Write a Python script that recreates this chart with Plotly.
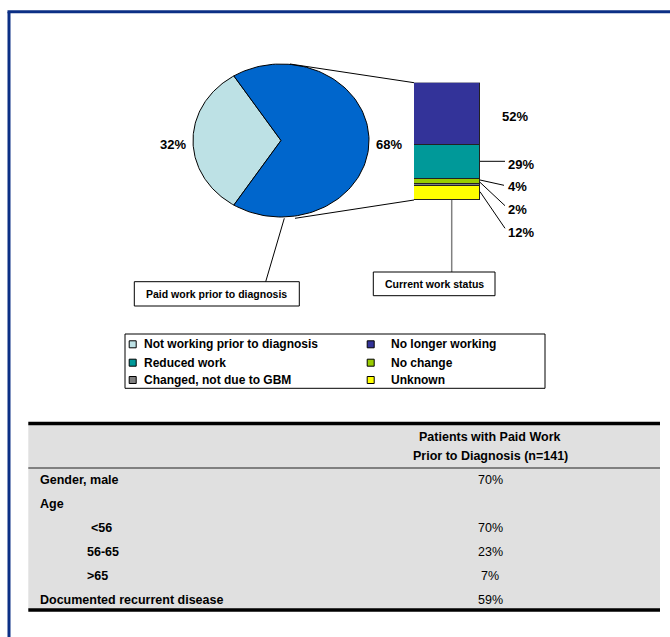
import numpy as np
import plotly.graph_objects as go

# ---------------- data ----------------
pie_labels = ["Not working prior to diagnosis", "Paid work prior to diagnosis"]
pie_values = [32, 68]
pie_colors = ["#BDE1E5", "#0066CC"]

bar_labels = ["No longer working", "Reduced work", "No change", "Changed, not due to GBM", "Unknown"]
bar_values = [52, 29, 4, 2, 12]
bar_colors = ["#333399", "#009999", "#99CC00", "#808080", "#FFFF00"]

legend_order = ["Not working prior to diagnosis", "No longer working",
                "Reduced work", "No change",
                "Changed, not due to GBM", "Unknown"]

table_header = ["Patients with Paid Work", "Prior to Diagnosis (n=141)"]
table_rows = ["Gender, male", "Age", "<56", "56-65", ">65", "Documented recurrent disease"]
table_values = ["70%", "", "70%", "23%", "7%", "59%"]
table_indent = [False, False, True, True, True, False]

# ---------------- layout constants (pixels) ----------------
W, H = 670, 637
FONT = "Arial, Liberation Sans, sans-serif"
cx, cy, rx, ry = 281.0, 140.5, 88.0, 76.5
bar_x0, bar_x1, bar_top, bar_bot = 414.0, 480.0, 82.7, 200.0

fig = go.Figure()

# ---------------- pie (elliptical) ----------------
total = sum(pie_values)
start = 180 - pie_values[0] / total * 360 / 2
ang = start
for lab, val, col in zip(pie_labels, pie_values, pie_colors):
    span = val / total * 360
    t = np.radians(np.linspace(ang, ang + span, 120))
    xs = np.concatenate([[cx], cx + rx * np.cos(t), [cx]])
    ys = np.concatenate([[cy], cy - ry * np.sin(t), [cy]])
    fig.add_trace(go.Scatter(x=xs, y=ys, mode="lines", fill="toself", fillcolor=col,
                             line=dict(color="black", width=1), hoverinfo="skip",
                             showlegend=False, xaxis="x", yaxis="y"))
    mid = np.radians(ang + span / 2)
    lx = cx + (rx + 20) * np.cos(mid)
    ly = cy + 3.5
    fig.add_annotation(x=lx, y=ly, xref="x", yref="y", text=f"<b>{val}%</b>", showarrow=False,
                       font=dict(family=FONT, size=13, color="black"), xanchor="center", yanchor="middle")
    ang += span

# ---------------- stacked bar ----------------
for lab, val, col in list(zip(bar_labels, bar_values, bar_colors))[::-1]:
    fig.add_trace(go.Bar(x=[0], y=[val], marker=dict(color=col, line=dict(color="#222222", width=1)),
                         width=1, xaxis="x2", yaxis="y2", showlegend=False, hoverinfo="skip"))

# bar labels
bar_label_pos = [(500, 116), (506, 164.5), (506, 186), (506, 209), (506, 232)]
for val, (px, py) in zip(bar_values, bar_label_pos):
    fig.add_annotation(x=px, y=py, xref="x", yref="y", text=f"<b>{val}%</b>", showarrow=False,
                       font=dict(family=FONT, size=13, color="black"), xanchor="left", yanchor="middle")

shapes = []
def line(x0, y0, x1, y1, color="black", width=1):
    shapes.append(dict(type="line", xref="x", yref="y", x0=x0, y0=y0, x1=x1, y1=y1,
                       line=dict(color=color, width=width)))

def rect(x0, y0, x1, y1, fill="rgba(0,0,0,0)", color="black", width=1, layer="above"):
    shapes.append(dict(type="rect", xref="x", yref="y", x0=x0, y0=y0, x1=x1, y1=y1,
                       fillcolor=fill, line=dict(color=color, width=width), layer=layer))

# leader lines for bar labels
line(480, 161.3, 505, 161.3)
line(480, 180, 504, 185.3)
line(480, 182.3, 505, 205.7)
line(480, 191.7, 505, 228.3)

# pie-to-bar connectors
line(290, 64, bar_x0, bar_top)
line(295, 218.3, bar_x0, bar_bot)

# callouts
line(284.3, 218.3, 265.7, 281.7)
rect(134.3, 281.7, 299.3, 306)
fig.add_annotation(x=216.8, y=294, xref="x", yref="y", text="<b>Paid work prior to diagnosis</b>",
                   showarrow=False, font=dict(family=FONT, size=10.5, color="black"))
line(451.7, 200, 451.7, 272, color="#808080", width=1.5)
rect(373.3, 272, 495, 295.7)
fig.add_annotation(x=434.2, y=284, xref="x", yref="y", text="<b>Current work status</b>",
                   showarrow=False, font=dict(family=FONT, size=10.5, color="black"))

# ---------------- legend (manual) ----------------
rect(125, 334, 545, 388.3)
col_map = dict(zip(pie_labels + bar_labels, pie_colors + bar_colors))
leg_x = [132.7, 370.7]
leg_tx = [142, 389]
leg_y = [344.3, 362.7, 380]
mx, my, mc = [], [], []
for i, name in enumerate(legend_order):
    c, r = i % 2, i // 2
    mx.append(leg_x[c]); my.append(leg_y[r]); mc.append(col_map[name])
    fig.add_annotation(x=leg_tx[c], y=leg_y[r], xref="x", yref="y", text=f"<b>{name}</b>",
                       showarrow=False, xanchor="left", yanchor="middle",
                       font=dict(family=FONT, size=12, color="black"))
fig.add_trace(go.Scatter(x=mx, y=my, mode="markers", xaxis="x", yaxis="y", showlegend=False,
                         hoverinfo="skip",
                         marker=dict(symbol="square", size=7, color=mc, line=dict(color="black", width=1))))

# ---------------- table ----------------
rect(28.3, 423.5, 660, 610, fill="#E0E0E0", color="rgba(0,0,0,0)", width=0, layer="below")
line(28.3, 423.5, 660, 423.5, width=3.5)
line(28.3, 468, 660, 468, color="#808080", width=2)
line(28.3, 610, 660, 610, width=3.5)
fig.add_annotation(x=490, y=436.7, xref="x", yref="y", text=f"<b>{table_header[0]}</b>", showarrow=False,
                   font=dict(family=FONT, size=12.5, color="black"))
fig.add_annotation(x=490, y=456, xref="x", yref="y", text=f"<b>{table_header[1]}</b>", showarrow=False,
                   font=dict(family=FONT, size=12.5, color="black"))
row_y = [480, 504, 528.3, 551.7, 575.7, 600]
for lab, val, ind, yy in zip(table_rows, table_values, table_indent, row_y):
    lx = 85.3 if ind else 38.3
    if lab == "<56":
        lx = 89.3
    fig.add_annotation(x=lx, y=yy, xref="x", yref="y", text="<b>" + lab.replace("<", "&lt;").replace(">", "&gt;") + "</b>",
                       showarrow=False, xanchor="left", yanchor="middle",
                       font=dict(family=FONT, size=12.5, color="black"))
    if val:
        fig.add_annotation(x=490, y=yy, xref="x", yref="y", text=val, showarrow=False,
                           xanchor="center", yanchor="middle",
                           font=dict(family=FONT, size=12.5, color="black"))

# ---------------- outer frame (left and top edges only visible) ----------------
FRAME = "#0b2f85"
shapes.append(dict(type="line", xref="paper", yref="paper", x0=9 / W, y0=1 - 11.7 / H, x1=9 / W, y1=0,
                   line=dict(color=FRAME, width=3)))
shapes.append(dict(type="line", xref="paper", yref="paper", x0=7.5 / W, y0=1 - 11.7 / H, x1=1, y1=1 - 11.7 / H,
                   line=dict(color=FRAME, width=3)))

fig.update_layout(
    width=W, height=H, margin=dict(l=0, r=0, t=0, b=0),
    paper_bgcolor="white", plot_bgcolor="white",
    barmode="stack", bargap=0, showlegend=False,
    shapes=shapes,
    xaxis=dict(range=[0, W], visible=False, fixedrange=True, domain=[0, 1],
               showline=False, zeroline=False, showgrid=False),
    yaxis=dict(range=[H, 0], visible=False, fixedrange=True, domain=[0, 1],
               showline=False, zeroline=False, showgrid=False),
    xaxis2=dict(range=[-0.5, 0.5], visible=False, fixedrange=True,
                domain=[bar_x0 / W, bar_x1 / W], anchor="y2"),
    yaxis2=dict(range=[0, sum(bar_values)], visible=False, fixedrange=True,
                domain=[(H - bar_bot) / H, (H - bar_top) / H], anchor="x2"),
)

fig.write_html("out.html", config={"displayModeBar": False},
               post_script="document.body.style.margin='0';document.body.style.overflow='hidden';")
